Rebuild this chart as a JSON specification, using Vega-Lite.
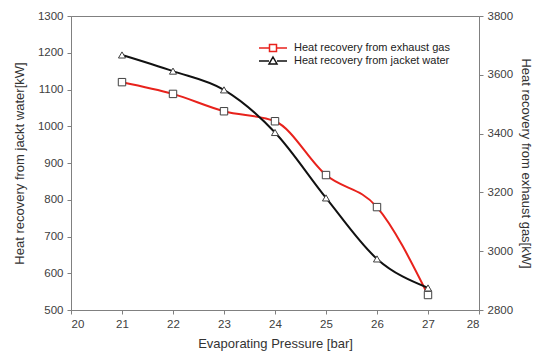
{
  "$schema": "https://vega.github.io/schema/vega-lite/v6.json",
  "width": 408,
  "height": 294,
  "autosize": {"type": "none"},
  "padding": {"left": 71, "top": 16, "right": 56, "bottom": 50},
  "background": "white",
  "config": {
    "font": "Liberation Sans",
    "view": {"stroke": "#808080", "strokeWidth": 1},
    "axis": {
      "grid": false,
      "domainColor": "#808080",
      "tickColor": "#808080",
      "labelColor": "#404040",
      "titleColor": "#333333",
      "labelFont": "Liberation Sans",
      "titleFont": "Liberation Sans",
      "labelFontSize": 11.5,
      "titleFontSize": 13,
      "titleFontWeight": "normal",
      "tickSize": 4,
      "labelPadding": 4
    }
  },
  "data": {
    "values": [
      {"pressure": 21, "series": "Heat recovery from exhaust gas", "value": 3575},
      {"pressure": 22, "series": "Heat recovery from exhaust gas", "value": 3535},
      {"pressure": 23, "series": "Heat recovery from exhaust gas", "value": 3476},
      {"pressure": 24, "series": "Heat recovery from exhaust gas", "value": 3442},
      {"pressure": 25, "series": "Heat recovery from exhaust gas", "value": 3259},
      {"pressure": 26, "series": "Heat recovery from exhaust gas", "value": 3150},
      {"pressure": 27, "series": "Heat recovery from exhaust gas", "value": 2851},
      {"pressure": 21, "series": "Heat recovery from jacket water", "value": 1194},
      {"pressure": 22, "series": "Heat recovery from jacket water", "value": 1150},
      {"pressure": 23, "series": "Heat recovery from jacket water", "value": 1099},
      {"pressure": 24, "series": "Heat recovery from jacket water", "value": 983},
      {"pressure": 25, "series": "Heat recovery from jacket water", "value": 805},
      {"pressure": 26, "series": "Heat recovery from jacket water", "value": 639},
      {"pressure": 27, "series": "Heat recovery from jacket water", "value": 560}
    ]
  },
  "layer": [
    {
      "transform": [{"filter": "datum.series == 'Heat recovery from exhaust gas'"}],
      "encoding": {
        "x": {
          "field": "pressure", "type": "quantitative",
          "scale": {"domain": [20, 28], "nice": false},
          "axis": {"values": [20, 21, 22, 23, 24, 25, 26, 27, 28], "format": "d", "title": "Evaporating Pressure [bar]", "titlePadding": 8}
        },
        "y": {
          "field": "value", "type": "quantitative",
          "scale": {"domain": [2800, 3800], "nice": false, "zero": false},
          "axis": {"orient": "right", "values": [2800, 3000, 3200, 3400, 3600, 3800], "format": "d", "title": "Heat recovery from exhaust gas[kW]", "titlePadding": 6}
        }
      },
      "layer": [
        {"mark": {"type": "line", "color": "#e8221c", "strokeWidth": 2, "interpolate": "monotone"}},
        {"mark": {"type": "point", "shape": "square", "filled": true, "fill": "white", "stroke": "#404040", "strokeWidth": 1, "size": 55, "opacity": 1}}
      ]
    },
    {
      "transform": [{"filter": "datum.series == 'Heat recovery from jacket water'"}],
      "encoding": {
        "x": {
          "field": "pressure", "type": "quantitative",
          "scale": {"domain": [20, 28], "nice": false},
          "axis": {"values": [20, 21, 22, 23, 24, 25, 26, 27, 28], "format": "d", "title": "Evaporating Pressure [bar]", "titlePadding": 8}
        },
        "y": {
          "field": "value", "type": "quantitative",
          "scale": {"domain": [500, 1300], "nice": false, "zero": false},
          "axis": {"orient": "left", "values": [500, 600, 700, 800, 900, 1000, 1100, 1200, 1300], "format": "d", "title": "Heat recovery from jackt water[kW]", "titlePadding": 11}
        }
      },
      "layer": [
        {"mark": {"type": "line", "color": "#111111", "strokeWidth": 2, "interpolate": "monotone"}},
        {"mark": {"type": "point", "shape": "triangle-up", "filled": true, "fill": "white", "stroke": "#404040", "strokeWidth": 1, "size": 50, "opacity": 1}}
      ]
    },
    {
      "transform": [{"filter": "false"}],
      "mark": {"type": "point", "filled": false, "strokeWidth": 1.5, "opacity": 1},
      "encoding": {
        "stroke": {
          "field": "series", "type": "nominal",
          "scale": {"domain": ["Heat recovery from exhaust gas", "Heat recovery from jacket water"], "range": ["#e8221c", "#111111"]},
          "legend": {"title": null, "orient": "none", "legendX": 196, "legendY": 26, "symbolSize": 100, "labelOffset": 15, "labelFontSize": 11, "labelColor": "#222222", "labelFont": "Liberation Sans", "rowPadding": -1, "symbolFillColor": "white", "symbolStrokeWidth": 1.5}
        },
        "shape": {
          "field": "series", "type": "nominal",
          "scale": {"domain": ["Heat recovery from exhaust gas", "Heat recovery from jacket water"], "range": ["M-2.8,0H-0.7M0.7,0H2.8M-0.7,-0.7H0.7V0.7H-0.7Z", "M-2.8,0H-0.8M0.8,0H2.8M0,-0.8L0.8,0.6H-0.8Z"]}
        }
      }
    }
  ],
  "resolve": {"scale": {"y": "independent"}}
}
